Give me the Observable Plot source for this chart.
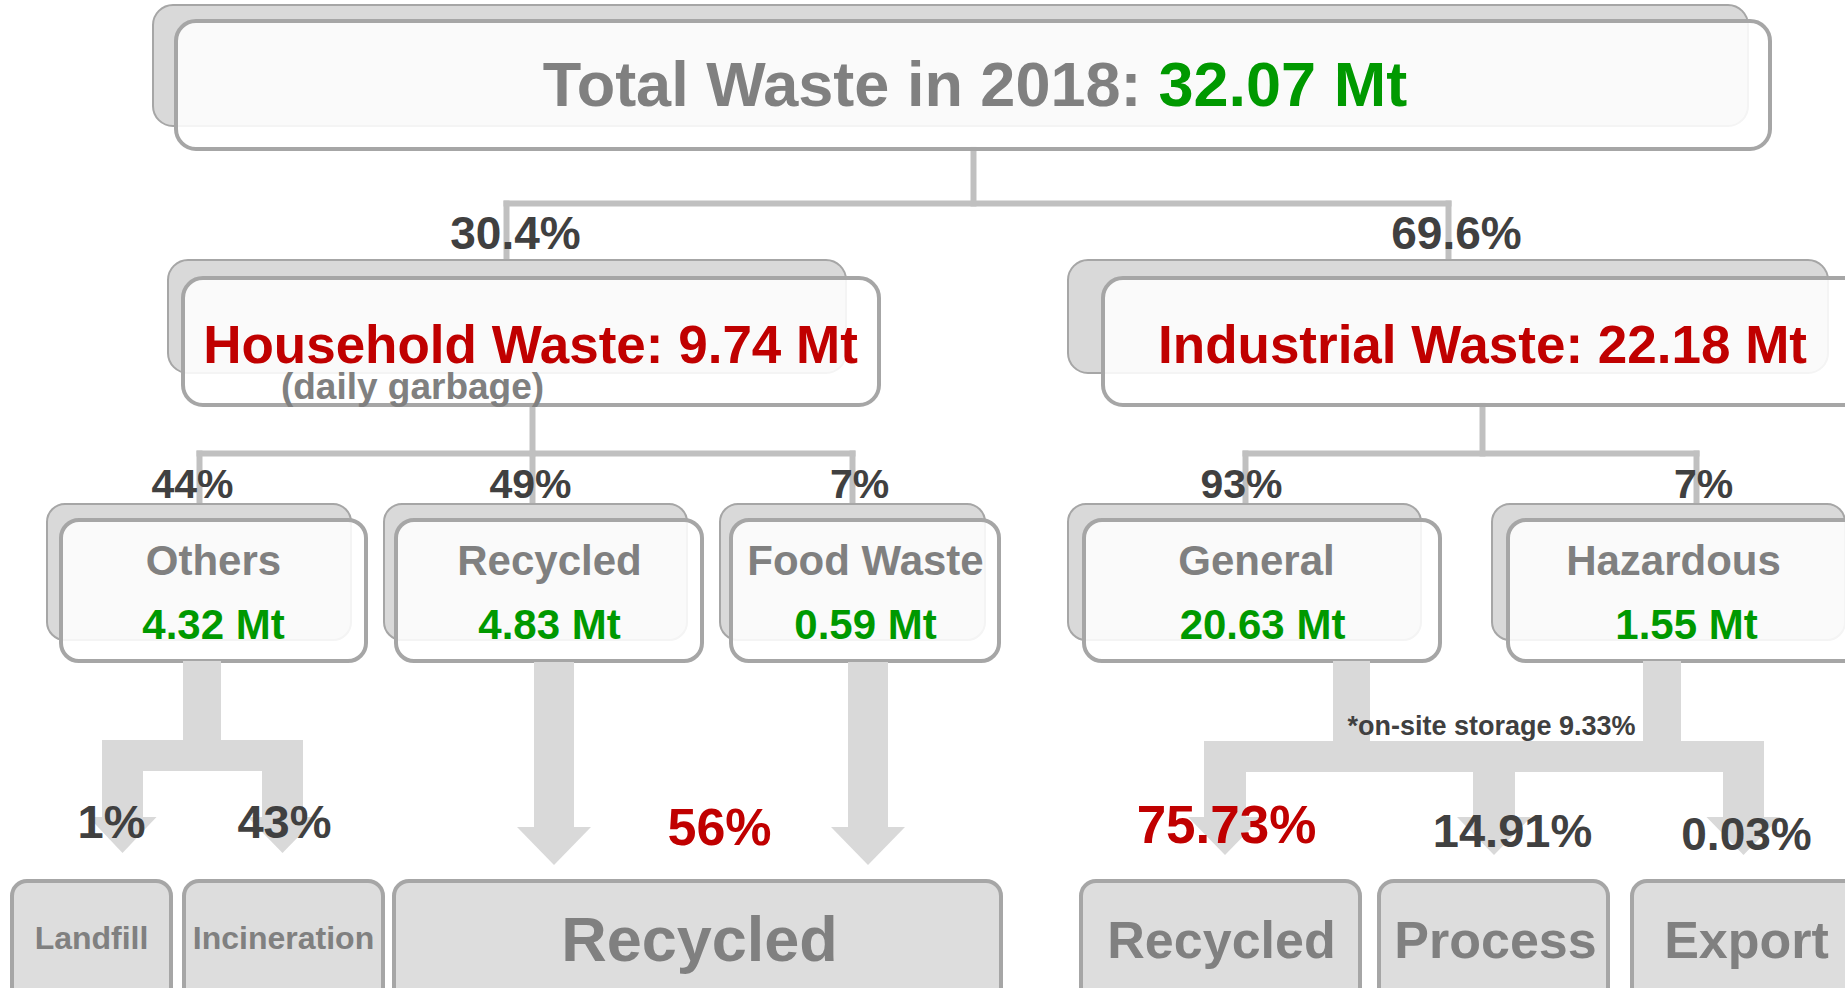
<!DOCTYPE html>
<html><head><meta charset="utf-8">
<script src="https://cdn.jsdelivr.net/npm/d3@7"></script>
<script src="https://cdn.jsdelivr.net/npm/@observablehq/plot@0.6"></script>
<style>html,body{margin:0;padding:0;overflow:hidden;background:#fff}</style>
</head><body><div id="chart"></div>
<script>
// ---------------- data ----------------
const totalYear = 2018;
const totalValue = 32.07;
const branchNames = ["Household Waste", "Industrial Waste"];
const branchValues = [9.74, 22.18];
const branchShares = ["30.4%", "69.6%"];
const branchNote = "(daily garbage)";
const householdCategories = ["Others", "Recycled", "Food Waste"];
const householdValues = [4.32, 4.83, 0.59];
const householdShares = ["44%", "49%", "7%"];
const industrialCategories = ["General", "Hazardous"];
const industrialValues = [20.63, 1.55];
const industrialShares = ["93%", "7%"];
const householdOutcomes = ["Landfill", "Incineration", "Recycled"];
const householdOutcomeShares = ["1%", "43%", "56%"];
const industrialOutcomes = ["Recycled", "Process", "Export"];
const industrialOutcomeShares = ["75.73%", "14.91%", "0.03%"];
const storageNote = "*on-site storage 9.33%";

// ---------------- layout (diagram geometry) ----------------
const W = 1845, H = 988;
const font = "Liberation Sans, Arial, Helvetica, sans-serif";
const C = {dark:"#404040", gray:"#808080", green:"#009900", red:"#c00000",
           line:"#c0c0c0", edge:"#a6a6a6", shade:"#d9d9d9", base:"#dddddd"};

const topBox = {back:[153,1748,5,126], front:[176,1770,21,149], split:1158, baseline:105};
const branchBox = [
  {back:[168,846,260,373], front:[183,879,278,405], cx:530, sx:515},
  {back:[1068,1828,260,373], front:[1103,1885,278,405], cx:1482, sx:1456}
];
const catBack = [[47,351],[384,687],[720,985],[1068,1421],[1492,1845]];
const catFront = [[61,366],[396,702],[731,999],[1084,1440],[1508,1885]];
const catNameX = [213,549,865,1256,1673];
const catValueX = [213,549,865,1262,1686];
const catShareX = [192,530,859,1241,1703];
const outBoxes = [[12,171],[184,383],[394,1001],[1081,1360],[1379,1608],[1632,1885]];
const outNameX = [91,283,699,1221,1495,1746];
const outNameY = [948,948,960,957,957,957];
const outNameSize = [32,32,63,52,52,52];
const outShareX = [111,284,719,1226,1512,1746];
const outShareY = [837,837,844,842,846,849];
const outShareSize = [47,47,52,53,47,46];

// connectors
const links = [
  [973,149,973,203],[506,203,1448,203],[506,203,506,260],[1448,203,1448,260],
  [532,405,532,453],[199,453,852,453],[199,453,199,504],[532,453,532,504],[852,453,852,504],
  [1482,405,1482,453],[1245,453,1696,453],[1245,453,1245,504],[1696,453,1696,504]
].map(([x1,y1,x2,y2]) => ({x1,y1,x2,y2}));

// flow arrows: bars and heads
const bars = [
  [183,221,661,741],[102,303,740,771],[102,143,770,818],[262,303,770,818],
  [534,574,662,828],[848,888,662,828],
  [1333,1370,661,742],[1643,1681,661,742],[1204,1764,741,772],
  [1204,1246,771,818],[1473,1515,771,818],[1723,1764,771,818]
].map(([x1,x2,y1,y2]) => ({x1,x2,y1,y2}));
const heads = [[122.5,34,817,853],[282.5,35,817,853],[554,37,827,865],[868,37,827,865],
               [1225,37,817,855],[1494,37,817,855],[1743.5,37,817,855]];
const headPts = heads.flatMap(([cx,hw,base,tip],i) => [
  {id:i, x:cx-hw, y1:base, y2:base},{id:i, x:cx, y1:base, y2:tip},{id:i, x:cx+hw, y1:base, y2:base}]);

// ---------------- build tables ----------------
const rectOf = ([x1,x2,y1,y2]) => ({x1,x2,y1,y2});
const backTop = [rectOf(topBox.back), ...branchBox.map(b => rectOf(b.back))];
const frontTop = [rectOf(topBox.front), ...branchBox.map(b => rectOf(b.front))];
const catBackRects = catBack.map(([x1,x2]) => ({x1,x2,y1:504,y2:640}));
const catFrontRects = catFront.map(([x1,x2]) => ({x1,x2,y1:520,y2:661}));
const outRects = outBoxes.map(([x1,x2]) => ({x1,x2,y1:881,y2:1015}));

const categories = [...householdCategories, ...industrialCategories];
const catValues = [...householdValues, ...industrialValues];
const catShares = [...householdShares, ...industrialShares];
const outcomes = [...householdOutcomes, ...industrialOutcomes];
const outShares = [...householdOutcomeShares, ...industrialOutcomeShares];
const outColors = outShares.map((s,i) => (i === 2 || i === 3) ? C.red : C.dark);

const titleLeft = [{x: topBox.split - 17, y: topBox.baseline, t: `Total Waste in ${totalYear}:`, s: 63, f: C.gray}];
const titleRight = [{x: topBox.split, y: topBox.baseline, t: `${totalValue.toFixed(2)} Mt`, s: 63, f: C.green}];

const texts = [
  ...branchNames.map((n,i) => ({x: branchBox[i].cx, y: 362, t: `${n}: ${branchValues[i]} Mt`, s: 53, f: C.red})),
  ...branchShares.map((p,i) => ({x: branchBox[i].sx, y: 248, t: p, s: 46, f: C.dark})),
  {x: 412, y: 398, t: branchNote, s: 37, f: C.gray},
  ...catShares.map((p,i) => ({x: catShareX[i], y: 497, t: p, s: 41, f: C.dark})),
  ...categories.map((n,i) => ({x: catNameX[i], y: 574, t: n, s: 42, f: C.gray})),
  ...catValues.map((v,i) => ({x: catValueX[i], y: 638, t: `${v.toFixed(2)} Mt`, s: 42, f: C.green})),
  {x: 1491, y: 734, t: storageNote, s: 27, f: C.dark},
  ...outShares.map((p,i) => ({x: outShareX[i], y: outShareY[i], t: p, s: outShareSize[i], f: outColors[i]})),
  ...outcomes.map((n,i) => ({x: outNameX[i], y: outNameY[i], t: n, s: outNameSize[i], f: C.gray}))
];

const textOpts = {x:"x", y:"y", text:"t", fontSize:"s", fill:"f", fontFamily: font, fontWeight: "bold", lineAnchor: "bottom"};

const chart = Plot.plot({
  width: W, height: H, margin: 0,
  x: {domain: [0, W], range: [0, W], axis: null},
  y: {domain: [0, H], range: [0, H], axis: null},
  color: {type: "identity"},
  style: {background: "#fff", overflow: "hidden"},
  marks: [
    Plot.link(links, {x1:"x1", y1:"y1", x2:"x2", y2:"y2", stroke: C.line, strokeWidth: 6, strokeLinecap: "square"}),
    Plot.rect(backTop, {x1:"x1", x2:"x2", y1:"y1", y2:"y2", rx: 20, fill: C.shade, stroke: C.edge, strokeWidth: 2}),
    Plot.rect(frontTop, {x1:"x1", x2:"x2", y1:"y1", y2:"y2", rx: 20, fill: "#fff", fillOpacity: 0.87, stroke: C.edge, strokeWidth: 4}),
    Plot.rect(catBackRects, {x1:"x1", x2:"x2", y1:"y1", y2:"y2", rx: 18, fill: C.shade, stroke: C.edge, strokeWidth: 2}),
    Plot.rect(catFrontRects, {x1:"x1", x2:"x2", y1:"y1", y2:"y2", rx: 18, fill: "#fff", fillOpacity: 0.87, stroke: C.edge, strokeWidth: 4}),
    Plot.rect(bars, {x1:"x1", x2:"x2", y1:"y1", y2:"y2", fill: C.shade}),
    Plot.areaY(headPts, {x:"x", y1:"y1", y2:"y2", z:"id", fill: C.shade, curve: "linear"}),
    Plot.rect(outRects, {x1:"x1", x2:"x2", y1:"y1", y2:"y2", rx: 15, fill: C.base, stroke: C.edge, strokeWidth: 4}),
    Plot.text(titleLeft, {...textOpts, textAnchor: "end"}),
    Plot.text(titleRight, {...textOpts, textAnchor: "start"}),
    Plot.text(texts, {...textOpts, textAnchor: "middle"})
  ]
});
document.getElementById("chart").append(chart);
</script></body></html>
